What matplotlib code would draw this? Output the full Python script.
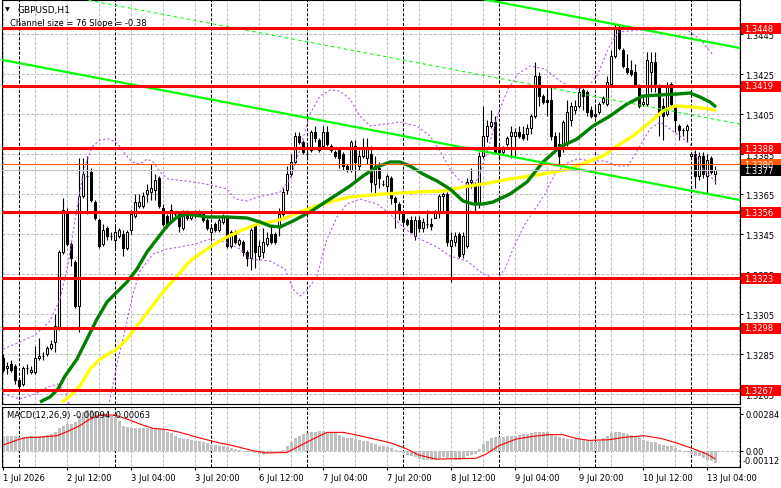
import matplotlib
matplotlib.use("Agg")
import matplotlib.pyplot as plt
import numpy as np
from matplotlib.patches import Rectangle
from matplotlib.transforms import blended_transform_factory

# ---------------- data ----------------
opens = [1.3283,1.3278,1.3280,1.3279,1.3272,1.3270,1.3278,1.3276,1.3276,1.3283,
         1.3284,1.3285,1.3288,1.3291,1.3298,1.3336,1.3356,1.3340,1.3331,1.3309,
         1.3364,1.3374,1.3376,1.3361,1.3352,1.3340,1.3348,1.3344,1.3342,1.3344,
         1.3345,1.3338,1.3347,1.3354,1.3359,1.3359,1.3365,1.3366,1.3367,1.3373,
         1.3358,1.3354,1.3352,1.3355,1.3355,1.3348,1.3356,1.3353,1.3355,1.3356,
         1.3355,1.3352,1.3346,1.3350,1.3347,1.3351,1.3353,1.3339,1.3346,1.3340,
         1.3341,1.3336,1.3333,1.3349,1.3334,1.3336,1.3340,1.3345,1.3345,1.3349,
         1.3355,1.3367,1.3375,1.3381,1.3394,1.3391,1.3385,1.3387,1.3396,1.3392,
         1.3389,1.3396,1.3389,1.3386,1.3387,1.3385,1.3379,1.3377,1.3389,1.3379,
         1.3384,1.3383,1.3385,1.3370,1.3378,1.3370,1.3369,1.3373,1.3363,1.3360,
         1.3355,1.3352,1.3352,1.3344,1.3352,1.3348,1.3350,1.3350,1.3353,1.3356,
         1.3364,1.3365,1.3339,1.3341,1.3345,1.3335,1.3339,1.3371,1.3370,1.3360,
         1.3384,1.3394,1.3399,1.3401,1.3387,1.3386,1.3390,1.3394,1.3394,1.3396,
         1.3395,1.3395,1.3398,1.3404,1.3424,1.3414,1.3412,1.3412,1.3394,1.3390,
         1.3388,1.3391,1.3402,1.3407,1.3409,1.3417,1.3416,1.3407,1.3405,1.3406,
         1.3411,1.3410,1.3420,1.3434,1.3448,1.3437,1.3428,1.3427,1.3426,1.3419,
         1.3410,1.3410,1.3426,1.3431,1.3419,1.3409,1.3405,1.3420,1.3409,1.3399,
         1.3397,1.3397,1.3384,1.3385,1.3374,1.3384,1.3374,1.3383,1.3375]
highs = [1.3285,1.3281,1.3282,1.3280,1.3273,1.3279,1.3280,1.3279,1.3289,1.3293,
         1.3286,1.3289,1.3292,1.3305,1.3337,1.3363,1.3358,1.3341,1.3332,1.3383,
         1.3383,1.3384,1.3378,1.3362,1.3353,1.3350,1.3349,1.3346,1.3349,1.3348,
         1.3347,1.3347,1.3357,1.3365,1.3365,1.3366,1.3370,1.3380,1.3375,1.3374,
         1.3360,1.3355,1.3360,1.3356,1.3356,1.3357,1.3357,1.3356,1.3357,1.3357,
         1.3356,1.3353,1.3349,1.3351,1.3353,1.3355,1.3354,1.3347,1.3347,1.3343,
         1.3342,1.3337,1.3348,1.3350,1.3342,1.3348,1.3346,1.3349,1.3346,1.3358,
         1.3368,1.3379,1.3385,1.3396,1.3396,1.3392,1.3390,1.3397,1.3399,1.3393,
         1.3399,1.3399,1.3390,1.3387,1.3388,1.3386,1.3380,1.3392,1.3392,1.3387,
         1.3393,1.3393,1.3389,1.3384,1.3381,1.3372,1.3375,1.3374,1.3364,1.3361,
         1.3356,1.3353,1.3354,1.3354,1.3354,1.3353,1.3357,1.3353,1.3357,1.3365,
         1.3366,1.3366,1.3346,1.3346,1.3346,1.3346,1.3373,1.3378,1.3371,1.3386,
         1.3409,1.3402,1.3407,1.3404,1.3390,1.3389,1.3394,1.3399,1.3398,1.3399,
         1.3399,1.3400,1.3405,1.3431,1.3426,1.3415,1.3418,1.3419,1.3396,1.3396,
         1.3402,1.3412,1.3411,1.3412,1.3419,1.3418,1.3417,1.3409,1.3409,1.3411,
         1.3414,1.3424,1.3437,1.3450,1.3450,1.3438,1.3435,1.3432,1.3430,1.3420,
         1.3414,1.3436,1.3436,1.3436,1.3420,1.3413,1.3421,1.3421,1.3410,1.3400,
         1.3398,1.3400,1.3386,1.3387,1.3386,1.3386,1.3385,1.3384,1.3379]
lows = [1.3276,1.3275,1.3276,1.3270,1.3267,1.3269,1.3275,1.3275,1.3275,1.3282,
        1.3282,1.3284,1.3287,1.3286,1.3297,1.3335,1.3339,1.3329,1.3308,1.3296,
        1.3363,1.3355,1.3361,1.3352,1.3338,1.3339,1.3342,1.3342,1.3337,1.3343,
        1.3334,1.3337,1.3345,1.3353,1.3358,1.3358,1.3361,1.3362,1.3362,1.3358,
        1.3349,1.3348,1.3351,1.3354,1.3346,1.3347,1.3352,1.3352,1.3353,1.3354,
        1.3351,1.3347,1.3343,1.3346,1.3346,1.3350,1.3338,1.3338,1.3340,1.3339,
        1.3334,1.3329,1.3327,1.3328,1.3332,1.3333,1.3339,1.3340,1.3340,1.3344,
        1.3354,1.3365,1.3374,1.3380,1.3390,1.3385,1.3382,1.3386,1.3391,1.3386,
        1.3388,1.3389,1.3386,1.3383,1.3378,1.3377,1.3376,1.3376,1.3372,1.3377,
        1.3383,1.3380,1.3366,1.3365,1.3368,1.3369,1.3366,1.3360,1.3348,1.3352,
        1.3350,1.3349,1.3346,1.3342,1.3346,1.3346,1.3348,1.3347,1.3353,1.3353,
        1.3356,1.3339,1.3321,1.3339,1.3333,1.3333,1.3338,1.3368,1.3356,1.3358,
        1.3383,1.3391,1.3398,1.3385,1.3382,1.3385,1.3389,1.3383,1.3384,1.3393,
        1.3392,1.3392,1.3395,1.3403,1.3409,1.3410,1.3404,1.3392,1.3387,1.3379,
        1.3386,1.3389,1.3399,1.3405,1.3408,1.3407,1.3404,1.3403,1.3403,1.3405,
        1.3410,1.3409,1.3419,1.3433,1.3437,1.3428,1.3425,1.3424,1.3419,1.3408,
        1.3409,1.3409,1.3416,1.3416,1.3394,1.3392,1.3404,1.3409,1.3396,1.3392,
        1.3394,1.3391,1.3384,1.3368,1.3372,1.3373,1.3365,1.3375,1.3370]
closes = [1.3277,1.3279,1.3277,1.3272,1.3269,1.3278,1.3278,1.3277,1.3283,1.3284,
          1.3284,1.3288,1.3290,1.3299,1.3336,1.3357,1.3340,1.3333,1.3309,1.3364,
          1.3375,1.3374,1.3362,1.3353,1.3339,1.3347,1.3344,1.3344,1.3346,1.3347,
          1.3338,1.3346,1.3355,1.3361,1.3361,1.3364,1.3367,1.3368,1.3372,1.3359,
          1.3350,1.3349,1.3357,1.3355,1.3349,1.3354,1.3353,1.3355,1.3356,1.3355,
          1.3352,1.3348,1.3348,1.3347,1.3352,1.3354,1.3339,1.3346,1.3341,1.3342,
          1.3336,1.3333,1.3347,1.3336,1.3339,1.3341,1.3343,1.3341,1.3341,1.3355,
          1.3366,1.3375,1.3381,1.3394,1.3391,1.3386,1.3385,1.3396,1.3393,1.3387,
          1.3396,1.3390,1.3387,1.3384,1.3383,1.3379,1.3377,1.3391,1.3381,1.3384,
          1.3388,1.3388,1.3371,1.3379,1.3373,1.3370,1.3374,1.3363,1.3361,1.3356,
          1.3351,1.3350,1.3346,1.3352,1.3348,1.3351,1.3350,1.3349,1.3356,1.3364,
          1.3365,1.3341,1.3342,1.3344,1.3334,1.3344,1.3371,1.3372,1.3360,1.3384,
          1.3394,1.3399,1.3401,1.3386,1.3386,1.3388,1.3393,1.3396,1.3396,1.3394,
          1.3393,1.3398,1.3404,1.3424,1.3414,1.3411,1.3411,1.3394,1.3388,1.3384,
          1.3401,1.3406,1.3409,1.3409,1.3416,1.3414,1.3406,1.3404,1.3404,1.3410,
          1.3413,1.3421,1.3434,1.3448,1.3438,1.3429,1.3426,1.3425,1.3420,1.3409,
          1.3411,1.3432,1.3431,1.3420,1.3405,1.3404,1.3419,1.3410,1.3402,1.3397,
          1.3397,1.3399,1.3385,1.3374,1.3384,1.3375,1.3382,1.3376,1.3377]

# moving averages (bar index, price)
green_ma_bar = [9.25,11.75,13.75,15.5,16.75,18.5,21,23.5,26,28.5,31,33.5,36,38.5,41,43.5,46,51,56,61,
                64.25,66.75,69.25,72.5,76.75,81.75,86.75,90,93.5,96.75,99.25,101.75,105,108.5,111.75,
                115,117.5,120,122.5,126.75,131,135,139.25,143.5,147.5,151.75,156,160,164.25,168.5,
                171.75,174.25,176.75,178.25]
green_ma_val = [1.32610,1.32635,1.32675,1.32740,1.32775,1.32825,1.32925,1.33025,1.33110,1.33160,
                1.33210,1.33275,1.33360,1.33425,1.33490,1.33535,1.33550,1.33535,1.33535,1.33530,
                1.33510,1.33490,1.33485,1.33515,1.33560,1.33625,1.33690,1.33740,1.33785,1.33810,
                1.33810,1.33790,1.33750,1.33715,1.33675,1.33615,1.33600,1.33600,1.33610,1.33650,
                1.33710,1.33810,1.33885,1.33925,1.33990,1.34040,1.34100,1.34140,1.34145,1.34150,
                1.34155,1.34135,1.34110,1.34085]
yellow_ma_bar = [14.75,16.75,19.25,21.75,24.25,28.5,31,33.5,36.75,40,43.5,46.75,51,55,59.25,63.5,
                 66.75,70,74.25,78.5,82.5,86.75,95,103.5,110,115,120,126.75,135,141.75,146,150,
                 153.5,157.5,161.75,165,168,172.5,176.75,178.25]
yellow_ma_val = [1.32610,1.32640,1.32690,1.32775,1.32825,1.32875,1.32925,1.32990,1.33075,1.33160,
                 1.33240,1.33315,1.33375,1.33425,1.33465,1.33500,1.33510,1.33525,1.33560,1.33590,
                 1.33615,1.33635,1.33650,1.33660,1.33665,1.33685,1.33700,1.33725,1.33750,1.33775,
                 1.33810,1.33840,1.33890,1.33940,1.34010,1.34065,1.34090,1.34085,1.34075,1.34065]

# band lines (bar index, price)
band_up_bar = [0,4.25,8,11.75,14.25,16.25,18.25,20.25,22.25,24.25,26.75,28.75,30.5,32.25,34.25,36,
               37.5,39.25,41.25,45.5,49.25,53,56,58,61,63.75,66.25,69.25,71.75,74.25,76.75,79.25,
               81.75,84.25,86.75,89.25,91.75,95.5,99.25,103.5,106.75,109.25,111.75,114.25,116.75,
               118.75,121.25,123.75,126.25,128.75,131.75,135.5,139.25,143,146.25,148.75,151.25,
               153.75,159.25,165.5,171,174.25,177.5]
band_up_val = [1.32875,1.32910,1.32945,1.33015,1.33125,1.33300,1.33550,1.33775,1.33885,1.33920,
               1.33925,1.33900,1.33850,1.33810,1.33800,1.33825,1.33810,1.33760,1.33725,1.33715,
               1.33705,1.33690,1.33675,1.33625,1.33615,1.33635,1.33645,1.33660,1.33725,1.33875,
               1.34050,1.34140,1.34170,1.34165,1.34125,1.34040,1.33990,1.34000,1.34010,1.33990,
               1.33940,1.33865,1.33775,1.33715,1.33690,1.33725,1.33875,1.34050,1.34175,1.34250,
               1.34290,1.34275,1.34215,1.34175,1.34185,1.34250,1.34375,1.34460,1.34470,1.34475,
               1.34470,1.34425,1.34345]
band_dn_bar = [0,4.25,8,11.25,13.75,15.75,17.75,21.25,24.25,26.25,27.5,28.75,30,31.25,32.5,34.25,
               37.5,41,44.25,48,51.75,55.5,59.25,61.75,66.75,70.5,72.5,74.25,76.25,78.5,81,83.5,86,
               89.25,93.5,96.75,100.5,104.25,108.5,111.75,116,120,123.5,125.5,128,130.5,133,135.5,
               138,140.5,143.5,147.5,150.5,153.5,156.25,158.5,161.75,164.25,166.75,169.25,171.75,
               175,178.25]
band_dn_val = [1.32650,1.32625,1.32650,1.32685,1.32700,1.32650,1.32525,1.32400,1.32425,1.32575,
               1.32700,1.32825,1.32925,1.33040,1.33150,1.33265,1.33350,1.33375,1.33385,1.33400,
               1.33425,1.33410,1.33375,1.33325,1.33315,1.33275,1.33175,1.33140,1.33175,1.33240,
               1.33425,1.33535,1.33600,1.33625,1.33600,1.33550,1.33475,1.33425,1.33385,1.33340,
               1.33315,1.33250,1.33225,1.33275,1.33400,1.33500,1.33575,1.33650,1.33750,1.33800,
               1.33825,1.33815,1.33815,1.33790,1.33790,1.33865,1.33975,1.34010,1.33975,1.33940,
               1.33900,1.33775,1.33710]

# regression channel: lower line price at bar 0, slope per bar, width
chan_start = 1.34320
chan_slope = -0.000038
chan_width = 0.0076

levels = [1.3448, 1.3419, 1.3388, 1.3356, 1.3323, 1.3298, 1.3267]
ask_price = 1.3380
bid_price = 1.3377
price_ticks = [1.3445, 1.3425, 1.3405, 1.3385, 1.3365, 1.3345, 1.3325, 1.3305, 1.3285, 1.3265]

macd_hist = [0.00111,0.00116,0.00116,0.00111,0.00103,0.00103,0.00108,0.00111,0.00116,0.00116,
             0.00116,0.00121,0.00129,0.00142,0.00173,0.00194,0.00206,0.00206,0.00219,0.00266,
             0.00297,0.00315,0.00315,0.00310,0.00297,0.00292,0.00284,0.00271,0.00258,0.00232,
             0.00194,0.00181,0.00173,0.00173,0.00175,0.00175,0.00173,0.00173,0.00175,0.00173,
             0.00163,0.00147,0.00134,0.00116,0.00098,0.00090,0.00090,0.00085,0.00077,0.00072,
             0.00065,0.00057,0.00046,0.00044,0.00039,0.00039,0.00026,0.00018,0.00013,0.00002,
             -0.00005,-0.00013,-0.00013,-0.00018,-0.00026,-0.00031,-0.00021,-0.00018,-0.00013,-0.00008,
             0.00008,0.00039,0.00070,0.00095,0.00116,0.00129,0.00137,0.00142,0.00147,0.00150,
             0.00150,0.00147,0.00142,0.00134,0.00121,0.00108,0.00095,0.00095,0.00090,0.00085,
             0.00077,0.00072,0.00059,0.00052,0.00039,0.00034,0.00026,0.00018,0.00008,-0.00008,
             -0.00018,-0.00034,-0.00044,-0.00052,-0.00065,-0.00070,-0.00072,-0.00070,-0.00065,-0.00059,
             -0.00052,-0.00059,-0.00065,-0.00070,-0.00072,-0.00059,-0.00044,-0.00034,-0.00026,0.00013,
             0.00052,0.00077,0.00095,0.00103,0.00103,0.00108,0.00116,0.00116,0.00116,0.00121,
             0.00126,0.00129,0.00134,0.00144,0.00147,0.00144,0.00142,0.00129,0.00116,0.00103,
             0.00095,0.00090,0.00090,0.00095,0.00095,0.00090,0.00083,0.00077,0.00070,0.00077,
             0.00095,0.00116,0.00134,0.00142,0.00142,0.00134,0.00129,0.00121,0.00111,0.00095,
             0.00085,0.00077,0.00070,0.00065,0.00052,0.00044,0.00039,0.00034,0.00018,0.00008,
             -0.00002,-0.00013,-0.00026,-0.00039,-0.00044,-0.00059,-0.00070,-0.00077,-0.00094]
signal_bar = [0,4.25,6,8.5,13.5,16,19.25,21.75,24.25,28,31,34.25,37.5,41,44.25,49.25,53.5,57.5,
              62.5,66,71,74.25,77.5,81,85,89.25,93.5,97,101,104,108.25,118.25,120.75,124,128.25,
              132.5,136.5,140,143.25,146.5,151.5,155.25,160.25,164.5,168.5,172.75,176,178]
signal_val = [0.00044,0.00090,0.00103,0.00103,0.00116,0.00147,0.00194,0.00245,0.00276,0.00276,
              0.00245,0.00206,0.00173,0.00163,0.00142,0.00098,0.00065,0.00039,0.0,-0.00018,
              -0.00013,0.00039,0.00090,0.00142,0.00142,0.00116,0.00085,0.00060,0.00013,-0.00034,
              -0.00065,-0.00059,-0.00026,0.00039,0.00090,0.00111,0.00124,0.00124,0.00095,0.00080,
              0.00085,0.00103,0.00116,0.00095,0.00059,0.00013,-0.00026,-0.00063]

day_sep_bars = [4, 28, 52, 76, 100, 124, 148, 172]
time_tick_bars = [0, 16, 32, 48, 64, 80, 96, 112, 128, 144, 160, 176]
time_tick_labels = ["1 Jul 2026", "2 Jul 12:00", "3 Jul 04:00", "3 Jul 20:00", "6 Jul 12:00",
                    "7 Jul 04:00", "7 Jul 20:00", "8 Jul 12:00", "9 Jul 04:00", "9 Jul 20:00",
                    "10 Jul 12:00", "13 Jul 04:00"]

# ---------------- figure ----------------
plt.rcParams['font.family'] = ['DejaVu Sans']
W, H = 781, 489
fig = plt.figure(figsize=(W / 100, H / 100), dpi=100)
fig.patch.set_facecolor('white')

def fx(px):
    return px / W

def fy(py):
    return 1 - py / H

ax = fig.add_axes([fx(2), fy(405), fx(740) - fx(2), fy(1) - fy(405)])
axm = fig.add_axes([fx(2), fy(468), fx(740) - fx(2), fy(408) - fy(468)])

XL = (-0.25, 184.25)
for a in (ax, axm):
    a.set_xlim(*XL)
    for s in a.spines.values():
        s.set_color('black')
        s.set_linewidth(0.8)
ax.set_ylim(1.32600, 1.34620)
axm.set_ylim(-0.00126, 0.00338)

GRID = '#c0c0c0'
dash = (0, (3, 1.6))
for a in (ax, axm):
    for k in range(0, 185, 8):
        a.axvline(k, color=GRID, lw=0.75, ls=dash, zorder=1)
    for d in day_sep_bars:
        a.axvline(d, color='black', lw=0.75, ls=dash, zorder=1.2)
for p in price_ticks:
    ax.axhline(p, color=GRID, lw=0.75, ls=dash, zorder=1)
axm.axhline(0, color=GRID, lw=0.75, ls=dash, zorder=1)

# candles
idx = np.arange(len(opens))
o = np.array(opens); h = np.array(highs); l = np.array(lows); c = np.array(closes)
ax.vlines(idx, l, h, color='black', lw=0.8, zorder=3)
bottoms = np.minimum(o, c)
heights = np.maximum(np.abs(c - o), 0.000005)
cols = np.where(c >= o, 'white', 'black')
ax.bar(idx, heights, bottom=bottoms, width=0.55, color=cols, edgecolor='black',
       linewidth=0.75, zorder=4)

# bands
band_col = '#b85ee0'
ax.plot(band_up_bar, band_up_val, color=band_col, lw=0.8, ls=(0, (2, 2)), zorder=5)
ax.plot(band_dn_bar, band_dn_val, color=band_col, lw=0.8, ls=(0, (2, 2)), zorder=5)

# moving averages
ax.plot(green_ma_bar, green_ma_val, color='#008000', lw=2.4, zorder=5.5, solid_capstyle='butt')
ax.plot(yellow_ma_bar, yellow_ma_val, color='#ffff00', lw=2.4, zorder=5.4, solid_capstyle='butt')

# channel
cx = np.array(XL)
lower = chan_start + chan_slope * cx
ax.plot(cx, lower, color='#00ff00', lw=1.6, zorder=6)
ax.plot(cx, lower + chan_width, color='#00ff00', lw=1.6, zorder=6)
ax.plot(cx, lower + chan_width / 2, color='#00ff00', lw=0.8, ls=(0, (3, 3)), zorder=6)

# horizontal levels
for lv in levels:
    ax.axhline(lv, color='red', lw=2.2, zorder=6.5)
ax.axhline(ask_price, color='#ff5a00', lw=0.8, zorder=6.3)
ax.axhline(bid_price, color=GRID, lw=0.8, zorder=6.3)

# right price axis
ax.yaxis.tick_right()
ax.set_yticks(price_ticks)
ax.set_yticklabels([f"{p:.4f}" for p in price_ticks])
ax.tick_params(axis='y', length=2.5, width=0.75, labelsize=6, pad=1.5, colors='black')
ax.set_xticks([])

btf = blended_transform_factory(fig.transFigure, ax.transData)
ymin, ymax = ax.get_ylim()
upp = (ymax - ymin) / 404.0

def right_label(price, text, fc):
    hh = 11 * upp
    ax.add_patch(Rectangle((fx(741), price - hh / 2), fx(781) - fx(741), hh, transform=btf,
                           facecolor=fc, edgecolor='none', clip_on=False, zorder=20))
    ax.text(fx(744), price, text, transform=btf, ha='left', va='center', color='white',
            fontsize=6, clip_on=False, zorder=21)

for lv in levels:
    right_label(lv, f"{lv:.4f}", 'red')
right_label(ask_price, f"{ask_price:.4f}", '#ff5a00')
right_label(bid_price, f"{bid_price:.4f}", 'black')

# MACD panel
axm.bar(idx, macd_hist, width=0.75, color='#c0c0c0', zorder=2)
axm.plot(signal_bar, signal_val, color='red', lw=0.8, zorder=3)
axm.yaxis.tick_right()
axm.set_yticks([0.00284, 0.0])
axm.set_yticklabels(["0.00284", "0.00"])
axm.tick_params(axis='y', length=2.5, width=0.75, labelsize=6, pad=1.5)
axm.annotate("-0.00112", xy=(1, -0.00112), xycoords=('axes fraction', 'data'),
             xytext=(3, 5), textcoords='offset pixels', ha='left', va='center',
             fontsize=6, annotation_clip=False)
axm.set_xticks(time_tick_bars)
axm.set_xticklabels(time_tick_labels)
for lab in axm.get_xticklabels():
    lab.set_ha('left')
axm.tick_params(axis='x', length=2.5, width=0.75, labelsize=6, pad=2)

axm.text(0.007, 0.87, "MACD(12,26,9) -0.00094 -0.00063", transform=axm.transAxes,
         fontsize=6, ha='left', va='center', zorder=10)

# header texts
fig.text(fx(5), fy(10), "\u25BC", fontsize=4.5, ha='left', va='center')
fig.text(fx(17), fy(10), "GBPUSD,H1", fontsize=6.5, ha='left', va='center')
fig.text(fx(10), fy(23), "Channel size = 76 Slope = -0.38", fontsize=6, ha='left', va='center')

fig.savefig("out.png", dpi=100)
